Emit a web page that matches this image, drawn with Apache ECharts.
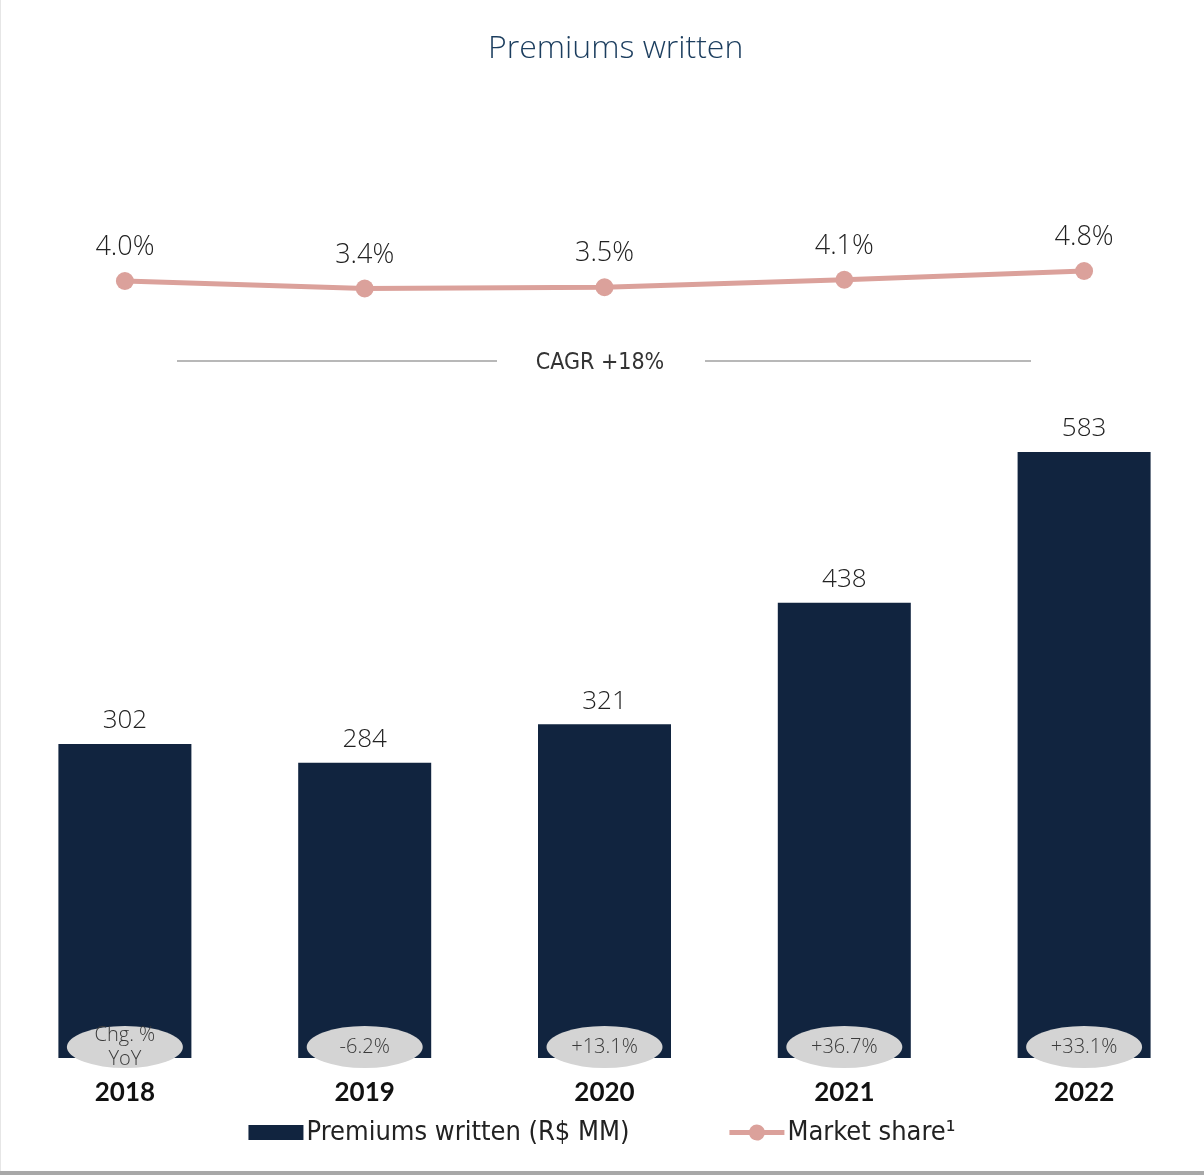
<!DOCTYPE html>
<html>
<head>
<meta charset="utf-8">
<script src="https://cdn.jsdelivr.net/npm/echarts@6/dist/echarts.min.js"></script>
<style>
  html, body { margin: 0; padding: 0; background: #ffffff; }
  #chart { width: 1204px; height: 1175px; }
</style>
</head>
<body>
<div id="chart"></div>
<script>
// Years shown on the category axis
const years = ['2018', '2019', '2020', '2021', '2022'];
// Premiums written, R$ MM
const premiums = [302, 284, 321, 438, 583];
// Market share, %
const marketShare = [4.0, 3.4, 3.5, 4.1, 4.8];
// Year-over-year change labels inside the pills
const yoyChange = ['Chg. %\nYoY', '-6.2%', '+13.1%', '+36.7%', '+33.1%'];
const cagrText = 'CAGR +18%';

const numFont = '"Open Sans", "Noto Sans", sans-serif';
const yearFont = 'Lato, "Noto Sans", sans-serif';
const condFont = '"Liberation Sans Narrow", "DejaVu Sans Condensed", "Open Sans", sans-serif';
const pink = '#dba19b';

// legend icons: a plain block, and a thick line with a dot in the middle
const barIcon = 'path://M0,0H52V14H0Z';
const lineIcon = 'path://M0,6.5H19.9A8,8 0 0 1 35.1,6.5H55V11.5H35.1A8,8 0 0 1 19.9,11.5H0Z';

const chart = echarts.init(document.getElementById('chart'));
chart.setOption({
  backgroundColor: '#ffffff',
  animation: false,
  title: {
    text: 'Premiums written',
    left: 483,
    top: 28,
    textStyle: { color: '#1b3d5e', fontSize: 32, fontWeight: 300, fontFamily: numFont }
  },
  legend: {
    bottom: 24,
    left: 'center',
    itemWidth: 55,
    itemHeight: 18,
    itemGap: 100,
    textStyle: { color: '#222', fontSize: 27, fontFamily: condFont, padding: [0, 0, 0, -2] },
    data: [
      { name: 'Premiums written (R$ MM)', icon: barIcon },
      { name: 'Market share¹', icon: lineIcon, itemStyle: { color: pink } }
    ]
  },
  grid: [
    { left: 5, right: 0, top: 122.5, bottom: 117 },
    { left: 5, right: 0, top: 206, height: 125 }
  ],
  xAxis: [
    {
      type: 'category', data: years, gridIndex: 0,
      axisLine: { show: false }, axisTick: { show: false },
      axisLabel: { color: '#111', fontSize: 26, fontWeight: 'bold', margin: 22, fontFamily: yearFont }
    },
    {
      type: 'category', data: years, gridIndex: 1, show: false
    }
  ],
  yAxis: [
    { type: 'value', gridIndex: 0, min: 0, max: 900, show: false },
    { type: 'value', gridIndex: 1, min: 0, max: 10, show: false }
  ],
  graphic: [
    { type: 'line', shape: { x1: 177, y1: 361, x2: 497, y2: 361 }, style: { stroke: '#b8b8b8', lineWidth: 2 } },
    { type: 'line', shape: { x1: 705, y1: 361, x2: 1031, y2: 361 }, style: { stroke: '#b8b8b8', lineWidth: 2 } },
    { type: 'text', x: 600, y: 363, style: { text: cagrText, fill: '#333', fontSize: 23, fontFamily: condFont, align: 'center', verticalAlign: 'middle' } },
    { type: 'rect', shape: { x: 0, y: 1171, width: 1204, height: 4 }, style: { fill: '#a8a8a8' } },
    { type: 'rect', shape: { x: 0, y: 0, width: 1, height: 1171 }, style: { fill: '#e6e6e6' } }
  ],
  series: [
    {
      name: 'Premiums written (R$ MM)',
      type: 'bar',
      xAxisIndex: 0, yAxisIndex: 0,
      data: premiums,
      barWidth: 133,
      itemStyle: { color: '#11243f' },
      label: { show: true, position: 'top', distance: 10, color: '#222', fontSize: 26, fontWeight: 300, fontFamily: numFont }
    },
    {
      name: 'yoy',
      type: 'scatter',
      xAxisIndex: 0, yAxisIndex: 0,
      data: premiums.map(() => 0),
      symbol: 'circle',
      symbolSize: [116, 42],
      symbolOffset: [0, -11],
      itemStyle: { color: '#d4d4d4', opacity: 1 },
      silent: true,
      z: 5,
      label: {
        show: true, position: 'inside',
        formatter: p => yoyChange[p.dataIndex],
        color: '#3a3a3a', fontSize: 20, lineHeight: 24, fontWeight: 300, fontFamily: numFont
      }
    },
    {
      name: 'Market share¹',
      type: 'line',
      xAxisIndex: 1, yAxisIndex: 1,
      data: marketShare,
      symbol: 'circle',
      symbolSize: 18,
      lineStyle: { color: pink, width: 5 },
      itemStyle: { color: pink },
      label: {
        show: true, position: 'top', distance: 11,
        formatter: p => p.value.toFixed(1) + '%',
        color: '#222', fontSize: 27, fontWeight: 300, fontFamily: numFont
      }
    }
  ]
});
</script>
</body>
</html>
